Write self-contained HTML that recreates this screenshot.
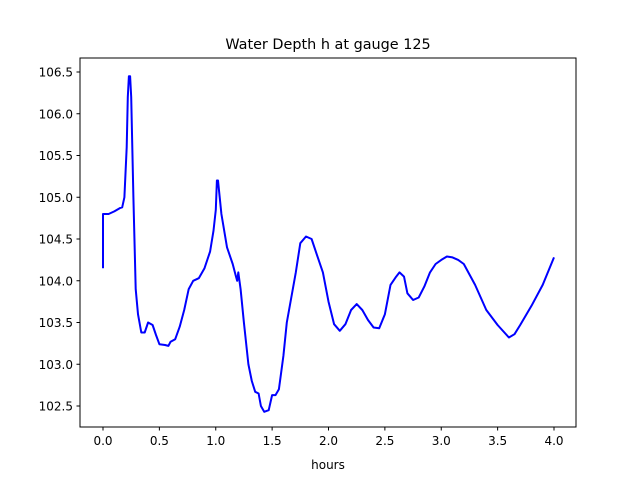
<!DOCTYPE html>
<html><head><meta charset="utf-8"><style>
body{margin:0;background:#fff;}
svg{display:block;font-family:"DejaVu Sans","Liberation Sans",sans-serif;}
</style></head><body>
<svg id="chart" width="640" height="480">
<rect x="0" y="0" width="640" height="480" fill="#fff"/>
<text x="328" y="49" text-anchor="middle" font-size="14.4">Water Depth h at gauge 125</text>
<g id="xt"></g>
<g id="yt"></g>
<path id="line" fill="none" stroke="#0000ff" stroke-width="2" stroke-linejoin="round"/>
<rect x="80" y="58" width="496" height="369" fill="none" stroke="#000" stroke-width="1"/>
<text x="328" y="469" text-anchor="middle" font-size="12">hours</text>
</svg>
<script>
const hours=[0,0,0.05,0.1,0.15,0.17,0.19,0.21,0.22,0.23,0.24,0.25,0.27,0.29,0.31,0.34,0.37,0.40,0.44,0.47,0.50,0.55,0.58,0.60,0.64,0.68,0.72,0.76,0.80,0.85,0.90,0.95,0.98,1.0,1.01,1.02,1.05,1.1,1.15,1.18,1.19,1.2,1.22,1.25,1.29,1.32,1.35,1.38,1.40,1.43,1.47,1.50,1.53,1.56,1.60,1.63,1.67,1.71,1.75,1.8,1.85,1.9,1.95,2.0,2.05,2.1,2.15,2.2,2.25,2.3,2.35,2.4,2.45,2.5,2.55,2.6,2.63,2.67,2.7,2.75,2.8,2.85,2.9,2.95,3.0,3.05,3.1,3.15,3.2,3.3,3.4,3.5,3.6,3.65,3.7,3.8,3.9,4.0];
const depth=[104.15,104.8,104.8,104.83,104.87,104.88,105.0,105.6,106.2,106.45,106.45,106.2,105.0,103.9,103.6,103.38,103.38,103.5,103.47,103.35,103.24,103.23,103.22,103.27,103.3,103.45,103.65,103.9,104.0,104.03,104.15,104.35,104.6,104.85,105.2,105.2,104.8,104.4,104.2,104.05,104.0,104.1,103.9,103.5,103.0,102.8,102.67,102.65,102.5,102.43,102.45,102.63,102.63,102.7,103.1,103.5,103.8,104.1,104.45,104.53,104.5,104.3,104.1,103.75,103.48,103.4,103.48,103.65,103.72,103.65,103.53,103.44,103.43,103.6,103.95,104.05,104.1,104.05,103.85,103.77,103.8,103.93,104.1,104.2,104.25,104.29,104.28,104.25,104.2,103.95,103.65,103.47,103.32,103.36,103.47,103.7,103.95,104.28];
const xTicks=[0,0.5,1,1.5,2,2.5,3,3.5,4];
const yTicks=[102.5,103,103.5,104,104.5,105,105.5,106,106.5];
const X=t=>103+t*112.75;
const Y=h=>72+(106.5-h)*83.5;
const ns="http://www.w3.org/2000/svg";
const xt=document.getElementById('xt'), yt=document.getElementById('yt');
xTicks.forEach(v=>{
  const l=document.createElementNS(ns,'line');
  l.setAttribute('x1',X(v));l.setAttribute('x2',X(v));l.setAttribute('y1',427);l.setAttribute('y2',430.5);l.setAttribute('stroke','#000');
  
  
  xt.appendChild(l);
  const t=document.createElementNS(ns,'text');
  t.setAttribute('x',X(v));t.setAttribute('y',445);t.setAttribute('text-anchor','middle');t.setAttribute('font-size','12');
  t.textContent=v.toFixed(1);
  
  
  xt.appendChild(t);
});
yTicks.forEach(v=>{
  const l=document.createElementNS(ns,'line');
  l.setAttribute('x1',76.5);l.setAttribute('x2',80);l.setAttribute('y1',Y(v));l.setAttribute('y2',Y(v));l.setAttribute('stroke','#000');
  
  
  yt.appendChild(l);
  const t=document.createElementNS(ns,'text');
  t.setAttribute('x',73);t.setAttribute('y',Y(v)+4.5);t.setAttribute('text-anchor','end');t.setAttribute('font-size','12');
  t.textContent=v.toFixed(1);
  
  
  yt.appendChild(t);
});
document.getElementById('line').setAttribute('d',hours.map((t,i)=>(i?'L':'M')+X(t).toFixed(1)+','+Y(depth[i]).toFixed(1)).join(''));
</script>
</body></html>
